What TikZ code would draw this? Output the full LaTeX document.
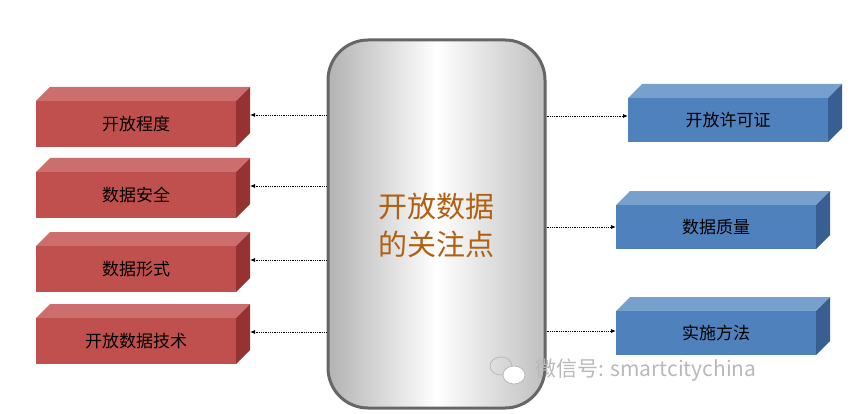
\documentclass[tikz,border=0pt]{standalone}
\usepackage{fontspec}
\newfontfamily\cjk{Noto Sans CJK SC}
\usetikzlibrary{arrows.meta}
\definecolor{rtop}{RGB}{205,110,110}
\definecolor{rside}{RGB}{150,50,50}
\definecolor{rfront}{RGB}{192,80,77}
\definecolor{btop}{RGB}{120,160,205}
\definecolor{bside}{RGB}{55,95,145}
\definecolor{bfront}{RGB}{79,129,189}
\definecolor{ctext}{RGB}{176,96,16}
\begin{document}
\begin{tikzpicture}[x=1pt,y=-1pt,
  arr/.style={densely dotted,thick,-{Latex[length=5pt,width=4pt]}},
  lbl/.style={font=\cjk\fontsize{17}{20}\selectfont,text=black}]
\useasboundingbox (0,0) rectangle (858,414);
% center
\node[draw=gray!80!black,line width=3pt,rounded corners=40pt,left color=gray!60,right color=gray!50,middle color=white,minimum width=217pt,minimum height=368pt] (c) at (436.5,224) {};
\node[font=\cjk\fontsize{29}{38}\selectfont,text=ctext,align=center] (ct) at (436,225) {开放数据\\的关注点};
% red boxes
\foreach \y/\t/\n in {101/开放程度/r1,172/数据安全/r2,246/数据形式/r3,318/开放数据技术/r4}{
  \fill[rtop] (36,\y) -- (50,\y-14) -- (250,\y-14) -- (236,\y) -- cycle;
  \fill[rside] (236,\y) -- (250,\y-14) -- (250,\y+32) -- (236,\y+46) -- cycle;
  \node[fill=rfront,minimum width=200pt,minimum height=46pt,anchor=north west,inner sep=0] (\n) at (36,\y) {};
  \node[lbl] at (\n.center) {\t};
  \coordinate (\n s) at (250,\y+14);
}
\foreach \n in {r1,r2,r3,r4}{ \draw[arr] (c.west |- \n s) -- (\n s); }
% blue boxes
\foreach \x/\y/\t/\n in {628/98/开放许可证/b1,616/205/数据质量/b2,616/311/实施方法/b3}{
  \fill[btop] (\x,\y) -- (\x+14,\y-14) -- (\x+214,\y-14) -- (\x+200,\y) -- cycle;
  \fill[bside] (\x+200,\y) -- (\x+214,\y-14) -- (\x+214,\y+30) -- (\x+200,\y+44) -- cycle;
  \node[fill=bfront,minimum width=200pt,minimum height=44pt,anchor=north west,inner sep=0] (\n) at (\x,\y) {};
  \node[lbl] at (\n.center) {\t};
}
\draw[arr] (c.east |- 0,116) -- (b1.west |- 0,116);
\draw[arr] (c.east |- 0,227) -- (b2.west |- 0,227);
\draw[arr] (c.east |- 0,331) -- (b3.west |- 0,331);
% watermark
\node[font=\cjk\fontsize{21}{24}\selectfont,text=gray!55,anchor=west] (wm) at (532,370) {微信号: smartcitychina};
\draw[gray!55,thick] (501,366) ellipse (11 and 9);
\draw[gray!55,thick,fill=white] (514,375) ellipse (11 and 9);
\end{tikzpicture}
\end{document}
